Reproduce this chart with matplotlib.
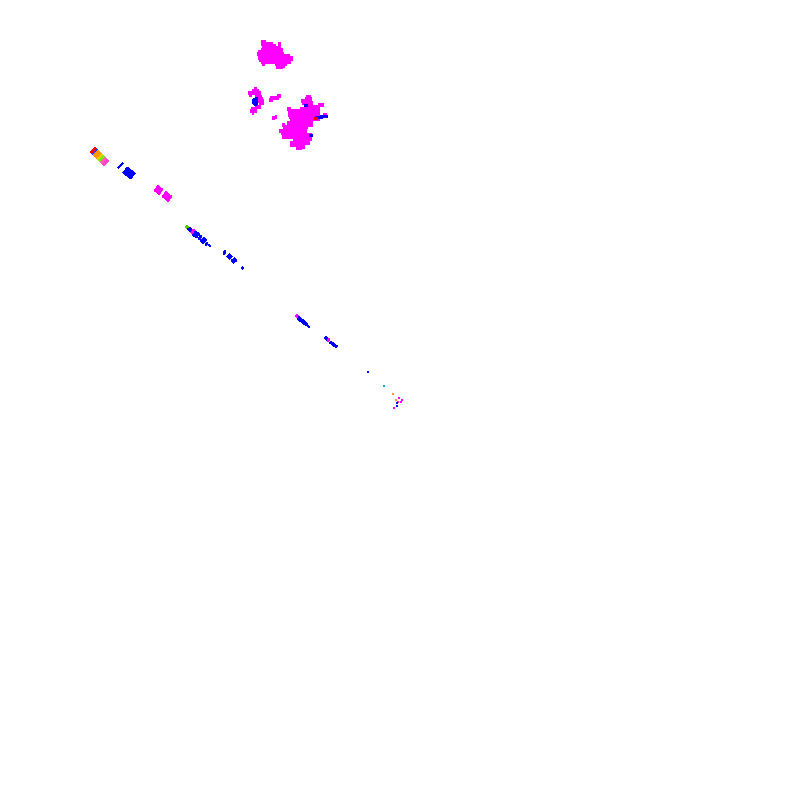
import matplotlib
matplotlib.use("Agg")
import matplotlib.pyplot as plt

# magenta dashes: y, x start, x end
top_y = [42, 44, 44, 46, 48, 50, 52, 54, 56, 58, 59, 60, 62, 62, 64, 64, 66, 67]
top_x0 = [261, 261, 278, 262, 262, 261, 258, 257, 258, 258, 285, 259, 261, 276, 262, 275, 277, 276]
top_x1 = [266, 273, 281, 276, 281, 283, 283, 284, 290, 293, 293, 288, 283, 291, 265, 287, 285, 283]

left_y = [89, 91, 93, 95, 95, 97, 99, 101, 103, 107, 109, 111, 113, 96, 98, 100, 117, 118]
left_x0 = [254, 252, 248, 249, 255, 257, 258, 258, 259, 255, 251, 250, 252, 277, 270, 269, 275, 272]
left_x1 = [257, 259, 261, 252, 261, 262, 263, 264, 264, 261, 257, 257, 254, 281, 279, 273, 277, 275]

big_y = [97, 99, 101, 103, 105, 105, 107, 109, 109, 111, 113, 115, 115, 117, 119, 121, 123, 125, 125,
         127, 129, 131, 133, 135, 137, 139, 141, 143, 145, 147, 148]
big_x0 = [306, 305, 301, 302, 304, 318, 307, 287, 300, 288, 288, 288, 323, 289, 290, 290, 287, 282, 287,
          285, 283, 279, 281, 283, 282, 295, 293, 290, 290, 296, 296]
big_x1 = [311, 312, 312, 313, 313, 324, 318, 291, 320, 320, 318, 320, 327, 314, 320, 313, 307, 285, 313,
          308, 307, 307, 307, 312, 305, 312, 305, 310, 300, 305, 302]

# thin blue and red bits inside the clusters
blue_y = [98, 99, 100, 101, 102, 103, 104, 116, 117, 105, 135]
blue_x0 = [255, 253, 252, 252, 252, 253, 254, 320, 315, 304, 309]
blue_x1 = [257, 257, 257, 257, 257, 257, 256, 327, 322, 307, 312]
red_y = [118]
red_x0 = [314]
red_x1 = [317]

# strokes along the diagonal: x0, y0, x1, y1, width in px, colour
diag_x0 = [91, 92, 93, 94, 95, 96, 97, 98, 99, 100, 101, 102, 103,
           118, 125, 156, 164,
           186, 189, 192, 194, 199, 202, 206, 209,
           224, 228, 233, 242,
           296, 298, 305, 308, 325, 327, 328, 330]
diag_y0 = [153, 154, 155, 156, 157, 158, 159, 160, 161, 162, 163, 164, 165,
           168, 170, 188, 194,
           228, 228, 231, 233, 237, 239, 243, 246,
           251, 255, 259, 269,
           315, 318, 323, 327, 337, 339, 339, 342]
diag_x1 = [96, 97, 98, 99, 100, 101, 102, 103, 104, 105, 106, 107, 108,
           123, 133, 161, 170,
           188, 191, 195, 198, 201, 205, 207, 210,
           225, 231, 235, 243,
           298, 305, 307, 309, 327, 328, 329, 337]
diag_y1 = [148, 149, 150, 151, 152, 153, 154, 155, 156, 157, 158, 159, 160,
           163, 176, 192, 199,
           226, 231, 233, 236, 238, 242, 245, 245,
           254, 258, 262, 267,
           317, 323, 325, 326, 339, 340, 341, 347]
diag_w = [2, 2, 2, 2, 2, 2, 2, 2, 2, 2, 2, 2, 2,
          1, 7, 6, 6,
          2, 3, 4, 5, 4, 5, 2, 2,
          2, 4, 4, 1,
          2, 3, 2, 2, 2, 2, 2, 2]
diag_c = ["#ff0000", "#ff0000", "#3333ff", "#ff9900", "#ff9900", "#ff9900", "#ff9900", "#ffcc00", "#88ee00",
          "#66ff00", "#ff66aa", "#ff66aa", "#ff44cc",
          "#0000ff", "#0000ff", "#ff00ff", "#ff00ff",
          "#55cc00", "#0000ff", "#ff00ff", "#0000ff", "#0000ff", "#0000ff", "#0000ff", "#0000ff",
          "#0000ff", "#0000ff", "#0000ff", "#0000ff",
          "#ff00ff", "#0000ff", "#0000ff", "#0000ff", "#0000ff", "#0000ff", "#ff00ff", "#0000ff"]

# lone dots at the far end
dot_x = [368, 384, 393, 396, 399, 402, 401, 398, 397, 397, 394]
dot_y = [372, 386, 394, 400, 398, 400, 402, 402, 403, 406, 408]
dot_c = ["#0000ff", "#00aaee", "#ff8855", "#ff8855", "#ff00ff", "#ff00ff", "#ff00ff", "#ff2288",
         "#0000ff", "#0000ff", "#ff00ff"]

fig = plt.figure(figsize=(8, 8), dpi=100)
ax = fig.add_axes([0, 0, 1, 1])
ax.set_xlim(0, 800)
ax.set_ylim(800, 0)
ax.axis("off")

ax.hlines(top_y, top_x0, top_x1, color="#ff00ff", lw=1.6, antialiased=False)
ax.hlines(left_y, left_x0, left_x1, color="#ff00ff", lw=1.6, antialiased=False)
ax.hlines(big_y, big_x0, big_x1, color="#ff00ff", lw=1.6, antialiased=False)
ax.hlines(blue_y, blue_x0, blue_x1, color="#0000ff", lw=0.8, antialiased=False)
ax.hlines(red_y, red_x0, red_x1, color="#ff0000", lw=0.8, antialiased=False)

for x0, y0, x1, y1, w, c in zip(diag_x0, diag_y0, diag_x1, diag_y1, diag_w, diag_c):
    ax.plot([x0, x1], [y0, y1], color=c, lw=w * 0.72, solid_capstyle="butt", antialiased=False)

ax.scatter(dot_x, dot_y, c=dot_c, s=1.2, marker="s", linewidths=0, antialiased=False)

fig.savefig("out.png", dpi=100, facecolor="white")
